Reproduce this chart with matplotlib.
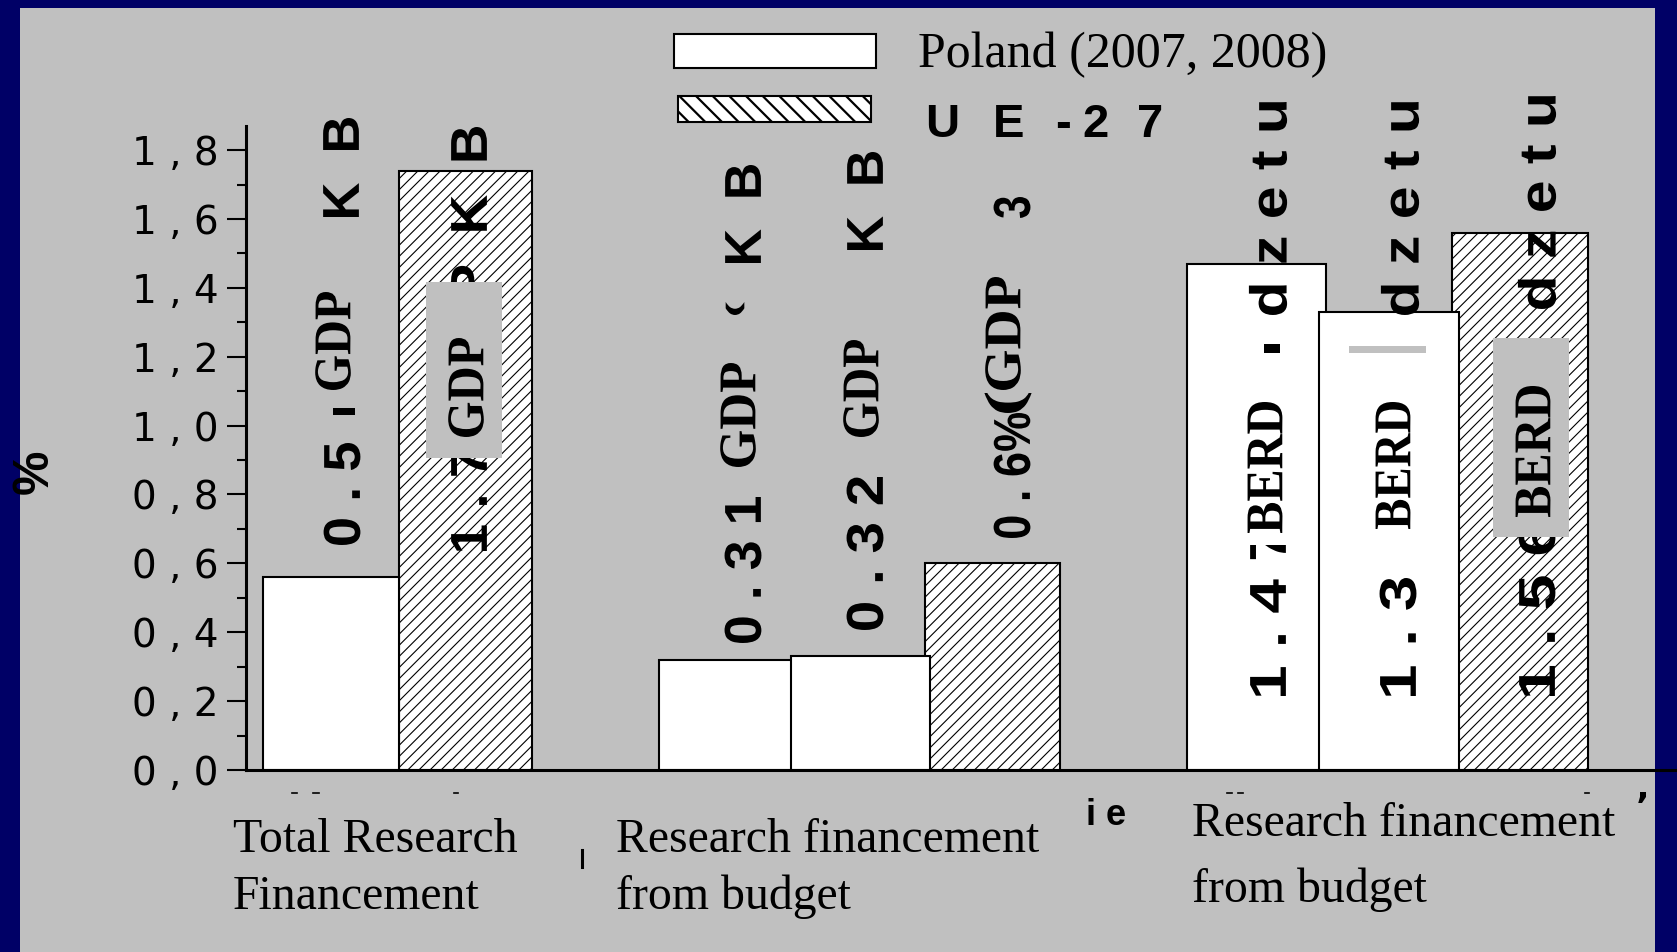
import matplotlib
matplotlib.use('Agg')
import matplotlib.pyplot as plt
import matplotlib.transforms as mtransforms
from matplotlib.font_manager import FontProperties
from matplotlib.lines import Line2D
from matplotlib.patches import PathPatch, Rectangle
from matplotlib.textpath import TextPath
from matplotlib.ticker import FuncFormatter, MultipleLocator

W, H = 1677, 952
NAVY = '#000066'
PANEL = '#c0c0c0'

# data
series_names = ['Poland (2007, 2008)', 'UE-27']
bar_values = [0.56, 1.74, 0.32, 0.33, 0.60, 1.47, 1.33, 1.56]
bar_series = [0, 1, 0, 0, 1, 0, 0, 1]
group_labels = [
    ['Total Research', 'Financement'],
    ['Research financement', 'from budget'],
    ['Research financement', 'from budget'],
]
y_ticks = [0.0, 0.2, 0.4, 0.6, 0.8, 1.0, 1.2, 1.4, 1.6, 1.8]

# layout of the bars (x in bar-width units from the y axis)
bar_left = [0.13, 1.18, 3.18, 4.19, 5.22, 7.24, 8.25, 9.28]
bar_width = [1.05, 1.02, 1.02, 1.07, 1.04, 1.07, 1.08, 1.04]

SANS_B = FontProperties(family='Liberation Sans', weight='bold')
SERIF_B = FontProperties(family='Liberation Serif', weight='bold')
FONTS = {'sans': SANS_B, 'serif': SERIF_B}

# rotated annotations: text, font, x centre, bottom, top (picture px), em size, zorder
rot_labels = [
    ('0 . 5', 'sans', 342, 545, 443, 52, 5),
    ('l', 'sans', 344, 415, 408, 30, 5),
    ('GDP', 'serif', 333, 390, 292, 53, 7),
    ('K  B', 'sans', 341, 217, 118, 52, 5),
    ('1 . 7', 'sans', 469, 551, 450, 52, 5),
    ('P  K  B', 'sans', 469, 297, 127, 52, 5),
    ('GDP', 'serif', 466, 437, 338, 53, 7),
    ('0 . 3 1', 'sans', 743, 643, 497, 52, 5),
    ('GDP', 'serif', 738, 467, 363, 53, 7),
    ('(', 'sans', 735, 315, 302, 20, 5),
    ('K  B', 'sans', 743, 263, 165, 52, 5),
    ('0 . 3 2', 'sans', 865, 630, 477, 52, 5),
    ('GDP', 'serif', 861, 437, 340, 53, 7),
    ('K  B', 'sans', 865, 250, 152, 52, 5),
    ('0 . 6%', 'sans', 1012, 538, 413, 52, 5),
    ('(', 'serif', 1008, 413, 393, 52, 5),
    ('GDP', 'serif', 1003, 390, 277, 53, 7),
    ('3', 'sans', 1012, 218, 197, 52, 5),
    ('1 . 4 7', 'sans', 1268, 696, 530, 52, 5),
    ('l', 'sans', 1272, 353, 344, 22, 5),
    ('d z e t u', 'sans', 1268, 315, 102, 52, 5),
    ('BERD', 'serif', 1265, 533, 402, 53, 7),
    ('d z e t u', 'sans', 1400, 315, 102, 52, 3.2),
    ('1 . 3', 'sans', 1398, 696, 578, 52, 5),
    ('BERD', 'serif', 1393, 529, 402, 53, 7),
    ('1 . 5 6', 'sans', 1537, 696, 523, 52, 5),
    ('d z e t u', 'sans', 1537, 309, 96, 52, 5),
    ('BERD', 'serif', 1533, 517, 386, 53, 7),
]

# boxes that hide parts of the labels: x, y, w, h (picture px), colour
cover_boxes = [
    (426, 282, 76, 176, PANEL),
    (1232, 356, 70, 189, 'white'),
    (1349, 346, 77, 199, 'white'),
    (1349, 346, 77, 7, PANEL),
    (1493, 338, 76, 199, PANEL),
]

# picture pixels, y counted from the top
pix = mtransforms.Affine2D().scale(1, -1).translate(0, H)


def vtext(ax, s, xc, y_bot, y_top, prop, size, z):
    path = TextPath((0, 0), s, size=size, prop=prop)
    bb = path.get_extents()
    stretch = (y_bot - y_top) / bb.width
    tr = (mtransforms.Affine2D()
          .translate(-bb.x0, -(bb.y0 + bb.y1) / 2)
          .scale(stretch, 1)
          .rotate_deg(90)
          .translate(xc, H - y_bot))
    ax.add_artist(PathPatch(path, transform=tr, fc='black', ec='none',
                            zorder=z, clip_on=False))


def tick_fmt(v, pos):
    a, b = '{:.1f}'.format(v).split('.')
    return a + ' , ' + b


def main():
    plt.rcParams['hatch.linewidth'] = 0.8
    fig = plt.figure(figsize=(W / 100, H / 100), dpi=100, facecolor=NAVY)
    fig.add_artist(Rectangle((20, 8), 1635, 944, transform=pix,
                             fc=PANEL, ec='none', zorder=-1))

    ax = fig.add_axes([246 / W, (H - 770) / H, (W - 246) / W, (770 - 126) / H])
    ax.set_facecolor('none')
    ax.set_xlim(0, (W - 246) / 130)
    ax.set_ylim(0, 1.87)

    for i, v in enumerate(bar_values):
        eu = bar_series[i] == 1
        z = 2 if eu else 3 + i * 0.01
        ax.bar(bar_left[i], v, width=bar_width[i], align='edge',
               color='white', edgecolor='black', linewidth=1.5,
               hatch='///' if eu else None, zorder=z)

    ax.spines[['right', 'top']].set_visible(False)
    for side in ['left', 'bottom']:
        ax.spines[side].set_linewidth(2.2)
        ax.spines[side].set_zorder(8)
    ax.set_xticks([])
    ax.yaxis.set_major_locator(MultipleLocator(0.2))
    ax.yaxis.set_minor_locator(MultipleLocator(0.1))
    ax.yaxis.set_major_formatter(FuncFormatter(tick_fmt))
    ax.tick_params(axis='y', which='major', length=13.7, width=1.5,
                   pad=6, labelsize=28, labelcolor='black')
    ax.tick_params(axis='y', which='minor', length=6.5, width=1.5)
    for lab in ax.get_yticklabels():
        lab.set_fontfamily('DejaVu Sans')
    ax.set_ylabel('%', fontsize=36, fontweight='bold', family='Liberation Sans')
    ax.yaxis.set_label_coords((58 - 246) / (W - 246), (770 - 472) / (770 - 126))

    for s, font, xc, yb, yt, size, z in rot_labels:
        vtext(ax, s, xc, yb, yt, FONTS[font], size, z)

    for x, y, w, h, c in cover_boxes:
        ax.add_artist(Rectangle((x, y), w, h, transform=pix, fc=c, ec='none',
                                zorder=6, clip_on=False))

    # legend
    fig.add_artist(Rectangle((674, 34), 202, 34, transform=pix, fc='white',
                             ec='black', lw=1.5, zorder=3))
    swatch = Rectangle((678, 96), 193, 26, transform=pix, fc='white',
                       ec='black', lw=1.5, hatch='\\\\', zorder=3)
    try:
        swatch.set_hatch_linewidth(1.6)
    except AttributeError:
        pass
    fig.add_artist(swatch)
    fig.text(918, 67, series_names[0], transform=pix, fontsize=36,
             family='Liberation Serif', va='baseline', ha='left')
    for ch, x in zip(series_names[1], [925, 993, 1055, 1082, 1137]):
        fig.text(x, 137, ch, transform=pix, fontsize=34, fontweight='bold',
                 family='Liberation Sans', va='baseline', ha='left')

    # group labels under the axis
    label_pos = [(233, 852, 909), (616, 852, 909), (1192, 836, 902)]
    for lines, (x, y1, y2) in zip(group_labels, label_pos):
        fig.text(x, y1, lines[0], transform=pix, fontsize=34.4,
                 family='Liberation Serif', va='baseline', ha='left')
        fig.text(x, y2, lines[1], transform=pix, fontsize=34.4,
                 family='Liberation Serif', va='baseline', ha='left')

    # leftover bits of clipped text on the slide
    fig.text(1086, 825, 'i e', transform=pix, fontsize=26, fontweight='bold',
             family='Liberation Sans', va='baseline', ha='left')
    fig.text(1636, 818, 'ʼ', transform=pix, fontsize=26, fontweight='bold',
             family='DejaVu Sans', va='baseline', ha='left')
    for x0, x1 in [(292, 297), (313, 319), (454, 458), (1227, 1232),
                   (1238, 1243), (1585, 1589)]:
        fig.add_artist(Line2D([x0, x1], [793, 793], transform=pix,
                              color='black', lw=1.2))
    fig.add_artist(Line2D([582, 582], [850, 867], transform=pix,
                          color='black', lw=2.2))

    fig.savefig('out.png', dpi=100, facecolor=NAVY)


if __name__ == '__main__':
    main()
